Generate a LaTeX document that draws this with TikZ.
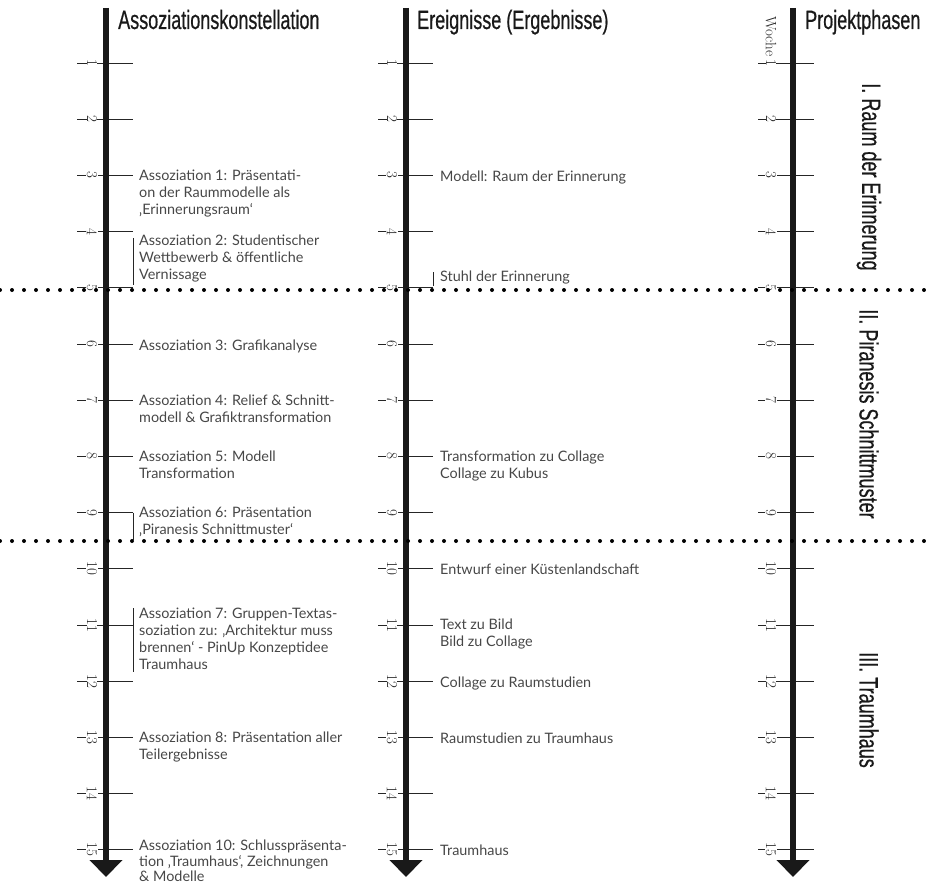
\documentclass[tikz,border=0pt]{standalone}
\usepackage{fontspec}
\newfontfamily\lato{Lato}
\newfontfamily\headfont[FakeStretch=0.68,FakeBold=0.6]{Liberation Sans}
\usetikzlibrary{arrows.meta}

\begin{document}
\begin{tikzpicture}
  [x=1pt,y=-1pt,every node/.style={inner sep=0pt},
   axis/.style={line width=6pt,black!90,-{Triangle[width=32pt,length=17pt]}},
   tick/.style={line width=0.9pt,black!85},
   wk/.style={font=\fontsize{15}{15}\selectfont,rotate=-90,fill=white,inner sep=0.5pt,text=black!85},
   txt/.style={anchor=north west,align=left,font=\lato\fontsize{14.4}{17}\selectfont,
     text=black!72,execute at begin node=\strut},
   head/.style={anchor=base west,font=\headfont\fontsize{26.5}{26.5}\selectfont,text=black!90},
   phase/.style={rotate=-90,font=\headfont\fontsize{26.5}{26.5}\selectfont,text=black!90},
   sep/.style={line width=4pt,line cap=round,dash pattern=on 0pt off 12pt}]
\useasboundingbox (0,0) rectangle (926,883);

\coordinate (s1l) at (0,290);   \coordinate (s1r) at (926,290);
\coordinate (s2l) at (0,541);   \coordinate (s2r) at (926,541);

\foreach \x/\n/\l/\r/\o in {106/a/29/27/14,406/e/28/27/14,793/p/35/21/22} {
  \coordinate (\n0) at (\x,8);
  \coordinate (\n16) at (\x,877);
  \foreach \w in {1,...,15} {
    \coordinate (\n\w) at (\x,{6.8+56.2*\w});
    \draw[tick] ([xshift=-\l pt]\n\w) -- ([xshift=\r pt]\n\w);
    \node[wk] (\n w\w) at ([xshift=-\o pt]\n\w) {\w};
  }
  \draw[axis] (\n0) -- (\n16);
}
\node[wk,anchor=east,fill=none] (woche) at (pw1.west) {Woche\kern2pt};

\draw[sep] (s1l) -- (s1r);
\draw[sep] (s2l) -- (s2r);

\node[head] (hA) at (118,29) {Assoziationskonstellation};
\node[head] (hE) at (417,29) {Ereignisse (Ergebnisse)};
\node[head] (hP) at (805,29) {Projektphasen};

\node[phase] (ph1) at (869,177) {I. Raum der Erinnerung};
\node[phase] (ph2) at (869,414) {II. Piranesis Schnittmuster};
\node[phase] (ph3) at (869,710) {III. Traumhaus};

\node[txt] (as1) at ([xshift=33pt,yshift=6pt]a3) {Assoziation 1: Präsentati-\\on der Raummodelle als\\‚Erinnerungsraum‘};
\node[txt] (as2) at ([xshift=33pt,yshift=-3.4pt]a4) {Assoziation 2: Studentischer\\Wettbewerb \& öffentliche\\Vernissage};
\node[txt] (as3) at ([xshift=33pt,yshift=6pt]a6) {Assoziation 3: Grafikanalyse};
\node[txt] (as4) at ([xshift=33pt,yshift=6pt]a7) {Assoziation 4: Relief \& Schnitt-\\modell \& Grafiktransformation};
\node[txt] (as5) at ([xshift=33pt,yshift=6pt]a8) {Assoziation 5: Modell\\Transformation};
\node[txt] (as6) at ([xshift=33pt,yshift=6pt]a9) {Assoziation 6: Präsentation\\‚Piranesis Schnittmuster‘};
\node[txt] (as7) at ([xshift=33pt,yshift=16.8pt]a11) {Assoziation 7: Gruppen-Textas-\\soziation zu: ‚Architektur muss\\brennen‘ - PinUp Konzeptidee\\Traumhaus};
\node[txt] (as8) at ([xshift=33pt,yshift=6pt]a13) {Assoziation 8: Präsentation aller\\Teilergebnisse};
\node[txt,font=\lato\fontsize{14.4}{15.5}\selectfont] (as10) at ([xshift=33pt,yshift=10pt]a15) {Assoziation 10: Schlusspräsenta-\\tion ‚Traumhaus‘, Zeichnungen\\\& Modelle};

\draw[tick] ([xshift=-6pt,yshift=-3pt]as2.north west) -- ([xshift=-6pt]as2.south west);
\coordinate (b6) at ([xshift=27pt]a9);
\draw[tick] (b6) -- (b6 |- s2l);
\draw[tick] ([xshift=-6pt]as7.north west) -- ([xshift=-6pt,yshift=3pt]as7.south west);

\node[txt] (ev3) at ([xshift=34pt,yshift=6pt]e3) {Modell: Raum der Erinnerung};
\node[txt] (ev5) at ([xshift=34pt,yshift=18.8pt]e5) {Stuhl der Erinnerung};
\node[txt] (ev8) at ([xshift=34pt,yshift=6pt]e8) {Transformation zu Collage\\Collage zu Kubus};
\node[txt] (ev10) at ([xshift=34pt,yshift=6pt]e10) {Entwurf einer Küstenlandschaft};
\node[txt] (ev11) at ([xshift=34pt,yshift=6pt]e11) {Text zu Bild\\Bild zu Collage};
\node[txt] (ev12) at ([xshift=34pt,yshift=6pt]e12) {Collage zu Raumstudien};
\node[txt] (ev13) at ([xshift=34pt,yshift=6pt]e13) {Raumstudien zu Traumhaus};
\node[txt] (ev15) at ([xshift=34pt,yshift=6pt]e15) {Traumhaus};

\draw[tick] ([xshift=-7pt,yshift=-3pt]ev5.north west) -- ([xshift=-7pt]ev5.south west);
\end{tikzpicture}
\end{document}
